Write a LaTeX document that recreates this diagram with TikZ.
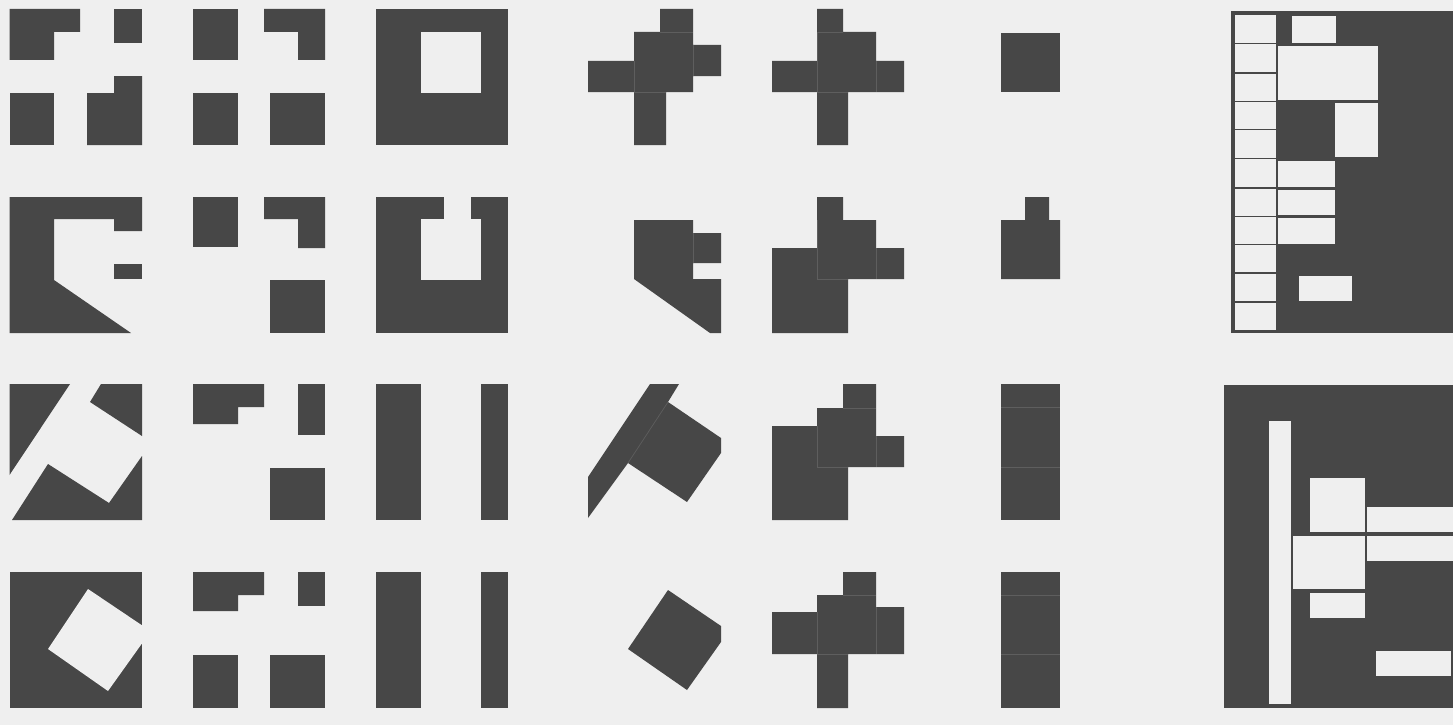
\documentclass[tikz,border=0pt]{standalone}
\definecolor{paperc}{HTML}{EFEFEF}
\definecolor{inkc}{HTML}{474747}
\definecolor{seamc}{HTML}{5E5E5E}
\tikzset{
  ink/.style={fill=inkc,draw=none},
  paper/.style={fill=paperc,draw=none},
  seam/.style={draw=seamc,line width=0.7pt},
  divider/.style={draw=inkc,line width=1.6pt}
}
\begin{document}
\begin{tikzpicture}[x=1pt,y=-1pt]
\useasboundingbox (0,0) rectangle (1453,725);
\fill[paperc] (0,0) rectangle (1453,725);

% column 1
\path[ink] (9.5,9)--(80,9)--(80,32)--(54,32)--(54,60)--(9.5,60)--cycle;
\path[ink] (114,9) rectangle (142,43);
\path[ink] (9.5,93) rectangle (54,145);
\path[ink] (87,93)--(114,93)--(114,76)--(142,76)--(142,145)--(87,145)--cycle;

\path[ink] (9.5,197)--(142,197)--(142,231)--(114,231)--(114,219)--(54,219)--(54,280)--(131,333)--(9.5,333)--cycle;
\path[ink] (114,264) rectangle (142,279);

\path[ink] (9.5,384)--(70,384)--(9.5,475)--cycle;
\path[ink] (101,384)--(142,384)--(142,436)--(90,402)--cycle;
\path[ink] (12,520)--(48,464)--(109,503)--(142,456)--(142,520)--cycle;

\path[ink] (9.5,572) rectangle (142,708);
\path[paper] (88,589)--(143,626)--(143,642)--(108,691)--(48,649)--cycle;

% column 2
\path[ink] (193,9) rectangle (238,60);
\path[ink] (264,9)--(325,9)--(325,60)--(298,60)--(298,32)--(264,32)--cycle;
\path[ink] (193,93) rectangle (238,145);
\path[ink] (270,93) rectangle (325,145);

\path[ink] (193,197) rectangle (238,247);
\path[ink] (264,197)--(325,197)--(325,248)--(298,248)--(298,219)--(264,219)--cycle;
\path[ink] (270,280) rectangle (325,333);

\path[ink] (193,384)--(264,384)--(264,407)--(238,407)--(238,424)--(193,424)--cycle;
\path[ink] (298,384) rectangle (325,435);
\path[ink] (270,468) rectangle (325,520);

\path[ink] (193,572)--(264,572)--(264,595)--(238,595)--(238,611)--(193,611)--cycle;
\path[ink] (298,572) rectangle (325,606);
\path[ink] (193,655) rectangle (238,708);
\path[ink] (270,655) rectangle (325,708);

% column 3
\path[ink] (376,9) rectangle (508,145);
\path[paper] (421,32) rectangle (481,93);
\path[ink] (376,197) rectangle (508,333);
\path[paper] (421,219) rectangle (481,280);
\path[paper] (444,196) rectangle (471,220);
\path[ink] (376,384) rectangle (421,520);
\path[ink] (481,384) rectangle (508,520);
\path[ink] (376,572) rectangle (421,708);
\path[ink] (481,572) rectangle (508,708);

% column 4
\path[ink] (660,9)--(693,9)--(693,45)--(721,45)--(721,76)--(693,76)--(693,92)--(666,92)--(666,145)--(634,145)--(634,92)--(588,92)--(588,61)--(634,61)--(634,32)--(660,32)--cycle;
\draw[seam] (634,61)--(634,92)--(666,92);
\draw[seam] (693,45)--(693,76);
\draw[seam] (660,32)--(693,32);

\path[ink] (634,220)--(693,220)--(693,233)--(721,233)--(721,263)--(693,263)--(693,279)--(721,279)--(721,333)--(710,333)--(634,279)--cycle;
\draw[seam] (693,233)--(693,263);

\path[ink] (650,384)--(679,384)--(668,402)--(721,438)--(721,453)--(687,502)--(628,463)--(588,518)--(588,477)--cycle;
\draw[seam] (668,402)--(628,463);

\path[ink] (668,590)--(721,626)--(721,642)--(687,690)--(628,649)--cycle;

% column 5
\path[ink] (817,9)--(843,9)--(843,32)--(876,32)--(876,61)--(904,61)--(904,92)--(848,92)--(848,145)--(817,145)--(817,92)--(772,92)--(772,61)--(817,61)--cycle;
\draw[seam] (817,32)--(817,92)--(848,92);
\draw[seam] (876,61)--(876,92);
\draw[seam] (817,32)--(843,32);

\path[ink] (817,197)--(843,197)--(843,220)--(876,220)--(876,248)--(904,248)--(904,279)--(848,279)--(848,333)--(772,333)--(772,248)--(817,248)--cycle;
\draw[seam] (817,220)--(817,279)--(848,279);
\draw[seam] (876,248)--(876,279);

\path[ink] (843,384)--(876,384)--(876,436)--(904,436)--(904,467)--(848,467)--(848,520)--(772,520)--(772,426)--(817,426)--(817,408)--(843,408)--cycle;
\draw[seam] (817,426)--(817,467)--(848,467);
\draw[seam] (843,408)--(876,408);
\draw[seam] (876,436)--(876,467);

\path[ink] (843,572)--(876,572)--(876,607)--(904,607)--(904,654)--(848,654)--(848,708)--(817,708)--(817,654)--(772,654)--(772,612)--(817,612)--(817,595)--(843,595)--cycle;
\draw[seam] (817,612)--(817,654)--(848,654);
\draw[seam] (876,607)--(876,654);
\draw[seam] (843,595)--(876,595);

% column 6
\path[ink] (1001,33) rectangle (1060,92);
\path[ink] (1025,197)--(1049,197)--(1049,220)--(1060,220)--(1060,279)--(1001,279)--(1001,220)--(1025,220)--cycle;
\path[ink] (1001,384) rectangle (1060,520);
\draw[seam] (1001,407)--(1060,407);
\draw[seam] (1001,467)--(1060,467);
\path[ink] (1001,572) rectangle (1060,708);
\draw[seam] (1001,595)--(1060,595);
\draw[seam] (1001,654)--(1060,654);

% plan top right
\path[ink] (1231,11) rectangle (1453,333);
\path[paper] (1234.5,15) rectangle (1276,330);
\foreach \yy in {43.5,73,101.5,129.5,158.5,188,216.5,244.5,273,302}
  \draw[divider] (1234,\yy)--(1277,\yy);
\path[paper] (1292,16) rectangle (1336,43);
\path[paper] (1278,46) rectangle (1378,100);
\path[paper] (1335,103) rectangle (1378,157);
\path[paper] (1278,161) rectangle (1335,187);
\path[paper] (1278,190) rectangle (1335,215);
\path[paper] (1278,218) rectangle (1335,244);
\path[paper] (1299,276) rectangle (1352,301);

% plan bottom right
\path[ink] (1224,385) rectangle (1453,708);
\path[paper] (1269,421) rectangle (1291,704);
\path[paper] (1310,478) rectangle (1365,532);
\path[paper] (1293,536) rectangle (1365,589);
\path[paper] (1310,593) rectangle (1365,618);
\path[paper] (1366.5,507) rectangle (1453,532);
\path[paper] (1366.5,536) rectangle (1453,561);
\path[paper] (1376,651) rectangle (1451,676);
\end{tikzpicture}
\end{document}
